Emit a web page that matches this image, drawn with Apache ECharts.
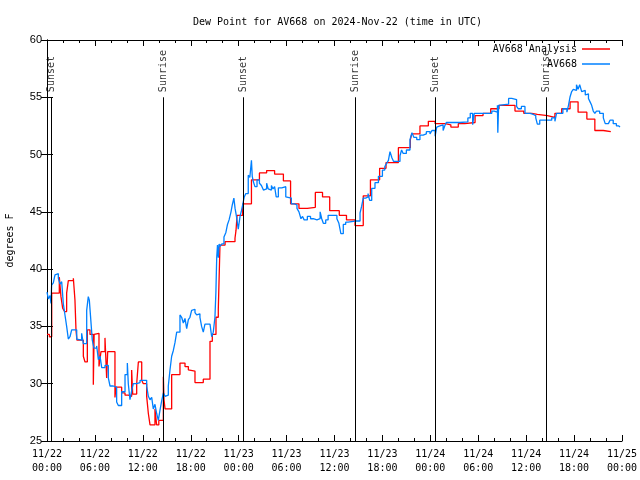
<!DOCTYPE html>
<html><head><meta charset="utf-8">
<script src="https://cdn.jsdelivr.net/npm/echarts/dist/echarts.min.js"></script>
<style>html,body{margin:0;padding:0;background:#fff}#c{width:640px;height:480px}</style>
</head><body><div id="c"></div>
<script>
// hours since 2024-11-22 00:00 UTC, dew point (F)
const analysisHours = [0,0.3,0.59,1.54,1.75,1.96,2.2,2.46,2.67,3.3,3.5,3.63,3.75,4.55,4.76,5.05,5.38,5.8,5.9,6.01,6.51,6.76,7.26,7.47,7.6,8.51,8.64,9.35,9.77,10.18,10.6,10.73,11.23,11.44,11.86,12.06,12.48,12.69,12.9,13.52,13.73,14.0,14.57,14.65,14.78,15.61,16.65,17.28,17.7,17.91,18.53,19.57,20.41,20.7,21.16,21.45,21.66,22.3,23.54,23.67,23.8,24.5,25.6,26.6,27.5,28.5,29.6,30.5,31.55,32.6,33.6,34.5,35.4,36.6,37.5,38.57,39.6,40.5,41.65,42.45,44.0,45.5,45.67,46.7,47.75,48.6,49.85,50.57,51.5,52.3,53.6,54.6,55.56,56.6,58.6,59.7,60.7,61.4,62.65,63.6,64.45,65.5,66.5,67.6,68.6,69.66,70.6];
const analysisValues = [34.3,34.1,37.9,39.3,37.6,36.6,36.3,37.9,39.0,39.2,37.3,34.7,33.8,32.4,31.9,34.7,34.3,29.9,34.3,34.4,31.5,32.8,34.0,30.5,32.8,28.8,29.7,29.2,29.0,28.9,31.2,29.1,30.0,31.9,30.3,30.0,28.9,27.4,26.4,27.8,26.4,26.8,30.6,28.6,27.8,30.8,31.8,31.5,31.2,31.1,30.1,30.4,33.7,34.3,35.8,36.5,42.1,42.4,42.7,43.4,44.7,45.7,47.8,48.4,48.6,48.3,47.7,45.7,45.3,45.4,46.7,46.3,45.1,44.7,44.3,43.8,46.4,47.8,48.8,49.3,50.6,51.3,51.8,52.5,52.9,52.7,52.6,52.4,52.7,52.8,53.4,53.6,54.0,54.3,53.8,53.6,53.5,53.4,53.25,53.6,54.0,54.6,53.7,53.1,52.1,52.0,52.0];

const obsHours = [0,0.17,0.38,0.5,0.58,0.79,1.0,1.21,1.42,1.63,1.84,2.04,2.25,2.46,2.67,2.88,3.09,3.72,3.92,4.34,4.55,4.97,5.17,5.3,5.47,5.67,5.88,6.22,6.43,6.64,6.85,7.26,7.68,7.89,8.3,8.72,8.93,9.35,9.77,10.06,10.18,10.39,10.6,10.81,11.23,11.65,12.06,12.48,12.69,12.9,13.11,13.31,13.52,13.73,13.94,14.15,14.36,14.57,14.78,14.98,15.19,15.4,15.61,15.82,16.03,16.24,16.44,16.65,16.86,17.07,17.28,17.49,17.7,17.9,18.11,18.32,18.53,18.74,18.94,19.15,19.36,19.57,19.78,20.41,20.62,20.82,21.03,21.15,21.25,21.35,21.45,21.55,21.66,21.9,22.16,22.4,22.6,22.8,23.04,23.2,23.4,23.55,23.75,23.95,24.17,24.35,24.5,24.7,24.9,25.2,25.4,25.6,25.7,25.85,26.04,26.3,26.6,26.85,27.1,27.3,27.5,27.7,27.9,28.1,28.3,28.5,28.7,28.97,29.4,29.9,30.0,30.6,31.0,31.3,31.55,31.8,32.0,32.2,32.6,33.0,33.35,33.8,34.2,34.4,34.6,34.9,35.2,36.3,36.55,36.8,37.1,37.4,37.7,38.57,39.2,39.4,39.6,39.9,40.2,40.4,40.66,41.07,41.5,42.0,42.3,42.5,42.75,42.95,43.2,43.4,44.2,44.4,44.6,45.0,45.45,45.7,45.95,46.3,46.7,47.1,47.5,47.96,48.2,48.6,48.8,49.0,49.2,49.6,49.8,50.0,51.7,52.7,53.0,53.3,53.5,55.7,56.0,56.4,56.45,56.55,56.6,57.8,58.2,58.8,59.0,59.4,59.85,60.5,60.9,61.2,61.4,61.7,63.2,63.6,63.8,64.6,65.1,65.3,65.5,65.7,65.9,66.1,66.3,66.5,66.7,66.95,67.15,67.4,67.6,67.8,68.0,68.2,68.4,68.6,68.8,69.2,69.66,69.9,70.3,70.5,70.9,71.3,71.6,71.75];
const obsValues = [38.0,37.4,37.7,37.0,38.6,38.8,39.5,39.6,39.2,38.7,38.9,37.0,36.0,35.0,33.9,34.1,34.7,33.9,33.8,34.4,33.5,36.4,37.6,37.3,35.7,33.8,33.1,33.3,32.1,32.4,31.4,31.6,30.5,29.8,29.7,28.4,28.1,29.3,30.8,31.8,30.0,28.6,29.4,30.0,30.1,30.3,30.3,29.8,28.9,28.6,28.8,27.8,28.2,27.4,26.8,27.7,28.5,29.2,28.9,29.0,29.8,31.2,32.4,32.9,33.6,34.5,34.5,36.0,35.8,35.3,35.7,34.8,35.6,35.8,36.4,36.5,36.2,36.0,36.1,35.8,35.0,34.5,35.2,35.2,34.1,34.5,35.8,38.0,41.0,42.1,41.0,42.2,42.0,42.2,42.8,43.2,43.9,44.3,45.0,45.6,46.2,45.3,44.5,43.5,44.6,45.1,45.6,46.3,46.6,48.2,48.0,49.5,48.1,47.6,47.2,47.8,47.5,47.3,46.9,47.0,47.5,47.0,46.9,47.3,47.0,47.2,46.3,47.1,47.2,46.3,46.2,45.7,45.6,45.3,45.0,44.4,44.6,44.3,44.6,44.4,44.3,44.4,45.0,44.4,44.0,44.3,44.7,44.4,44.0,43.1,43.9,44.1,44.2,44.2,44.9,45.5,46.2,46.3,46.6,46.0,47.05,47.55,48.1,48.65,48.95,49.2,49.5,50.25,49.7,49.4,49.9,50.4,50.1,50.4,51.3,51.9,51.5,51.3,51.7,51.8,52.0,51.8,52.1,51.6,52.4,52.5,52.6,52.1,52.5,52.8,52.85,53.2,53.6,52.6,53.6,53.8,53.7,54.3,51.9,54.3,54.4,54.9,54.8,54.2,54.0,54.2,53.6,53.5,53.4,53.2,52.65,53.0,53.2,52.9,53.6,54.0,53.7,54.3,55.05,55.5,55.7,55.6,56.1,55.7,56.1,55.5,55.6,55.2,55.3,54.9,54.6,54.3,53.8,53.6,53.8,53.6,53.2,52.7,52.8,53.0,52.7,52.5,52.4,52.4];

const sunNames = ['Sunset','Sunrise','Sunset','Sunrise','Sunset','Sunrise'];
const sunHours = [0.59,14.56,24.58,38.6,48.62,62.52];
const xTickDays = ['11/22','11/23','11/24','11/25'];

const zip = (a, b) => a.map((h, i) => [h, b[i]]);
const mono = 'DejaVu Sans Mono';
const fmtX = v => {
  const d = xTickDays[Math.floor(v / 24)];
  const hh = String(Math.round(v % 24)).padStart(2, '0');
  return d + '\n' + hh + ':00';
};
const tickCommon = { show: true, inside: true, length: 6, lineStyle: { color: '#000', width: 1 } };
const minorCommon = { show: true, splitNumber: 3, length: 3, lineStyle: { color: '#000', width: 1 } };
const axLine = { show: true, lineStyle: { color: '#000', width: 1 } };

const chart = echarts.init(document.getElementById('c'), null, { renderer: 'canvas' });
chart.setOption({
  animation: false,
  backgroundColor: '#fff',
  title: {
    text: 'Dew Point for AV668 on 2024-Nov-22 (time in UTC)',
    left: 188, top: 12,
    textStyle: { fontFamily: mono, fontSize: 10, fontWeight: 'normal', color: '#000' }
  },
  legend: {
    data: ['AV668 Analysis', 'AV668'],
    orient: 'vertical', align: 'right',
    right: 30, top: 43, padding: 0, itemGap: 3,
    itemWidth: 28, itemHeight: 1.5, icon: 'rect',
    textStyle: { fontFamily: mono, fontSize: 10, color: '#000', lineHeight: 12 }
  },
  grid: { left: 47, right: 18, top: 40, bottom: 39, show: false, containLabel: false, outerBoundsMode: 'none' },
  xAxis: [{
    type: 'value', min: 0, max: 72, interval: 6,
    axisLine: axLine, axisTick: tickCommon, minorTick: minorCommon,
    splitLine: { show: false },
    axisLabel: { formatter: fmtX, fontFamily: mono, fontSize: 10, color: '#000', lineHeight: 14, margin: 6 }
  }, {
    type: 'value', min: 0, max: 72, interval: 6, position: 'top',
    axisLine: axLine, axisTick: tickCommon, minorTick: minorCommon,
    splitLine: { show: false }, axisLabel: { show: false }
  }],
  yAxis: [{
    type: 'value', min: 25, max: 60, interval: 5,
    name: 'degrees F', nameLocation: 'middle', nameRotate: 90, nameGap: 32,
    nameTextStyle: { fontFamily: mono, fontSize: 10, color: '#000' },
    axisLine: axLine, axisTick: tickCommon, splitLine: { show: false },
    axisLabel: { fontFamily: 'Liberation Sans', fontSize: 11, color: '#000', margin: 5 }
  }, {
    type: 'value', min: 25, max: 60, interval: 5, position: 'right',
    axisLine: axLine, axisTick: tickCommon, splitLine: { show: false },
    axisLabel: { show: false }
  }],
  series: [{
    name: 'AV668 Analysis', type: 'line', step: 'end', showSymbol: false, symbol: 'none',
    data: zip(analysisHours, analysisValues),
    lineStyle: { color: '#ff0000', width: 1.3 }, itemStyle: { color: '#ff0000' },
    markLine: {
      silent: true, symbol: ['none', 'none'], label: { show: false },
      lineStyle: { color: '#000', width: 1, type: 'solid' },
      data: sunHours.map(h => [{ coord: [h, 25] }, { coord: [h, 55] }])
    }
  }, {
    name: 'AV668', type: 'line', step: 'end', showSymbol: false, symbol: 'none',
    data: zip(obsHours, obsValues),
    lineStyle: { color: '#0080ff', width: 1.3 }, itemStyle: { color: '#0080ff' }
  }, {
    name: 'sun', type: 'scatter', silent: true, symbolSize: 1,
    itemStyle: { color: 'rgba(0,0,0,0)' },
    data: sunHours.map(h => [h, 55.45]),
    label: {
      show: true, position: 'inside', rotate: 90, align: 'left', verticalAlign: 'middle',
      formatter: p => sunNames[p.dataIndex],
      fontFamily: mono, fontSize: 10, color: '#000'
    },
    z: 10
  }]
});
</script></body></html>
